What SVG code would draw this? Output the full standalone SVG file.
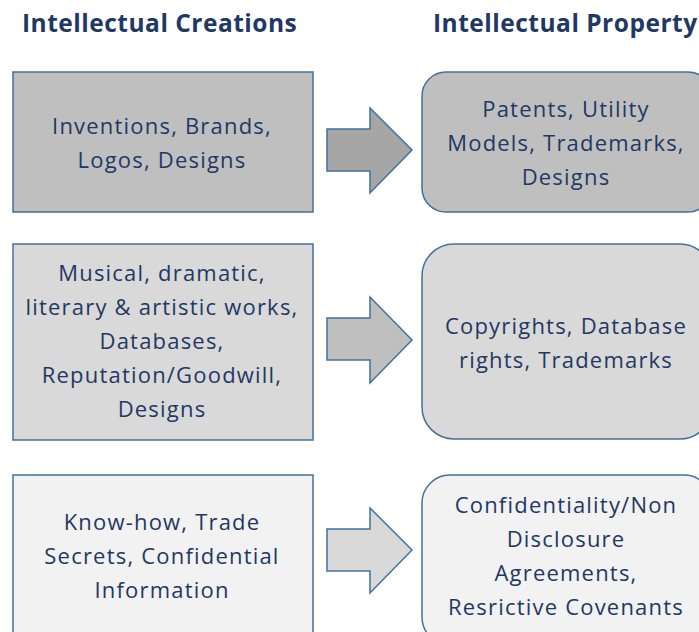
<svg xmlns="http://www.w3.org/2000/svg" width="699" height="632" viewBox="0 0 699 632">
<style>
.h{font-family:"Open Sans","Liberation Sans",sans-serif;font-weight:bold;font-size:24.5px;letter-spacing:0.5px;fill:#1f3864}
.t{font-family:"Open Sans","Liberation Sans",sans-serif;font-size:22px;letter-spacing:1.2px;fill:#1f3864;text-anchor:middle}
.b{stroke:#41719c;stroke-width:1.5}
</style>
<rect width="699" height="632" fill="#fff"/>
<text class="h" x="22" y="32">Intellectual Creations</text>
<text class="h" x="433" y="32">Intellectual Property</text>
<g id="c1"><rect class="b" x="13" y="72" width="300" height="140" fill="#bfbfbf"/>
<text class="t" x="162"><tspan x="162" y="134">Inventions, Brands,</tspan><tspan x="162" y="168">Logos, Designs</tspan></text></g>
<g id="p1"><rect class="b" x="422" y="72" width="290" height="140" rx="24" fill="#bfbfbf"/>
<text class="t"><tspan x="566" y="117">Patents, Utility</tspan><tspan x="566" y="151">Models, Trademarks,</tspan><tspan x="566" y="185">Designs</tspan></text></g>
<g id="c2"><rect class="b" x="13" y="244" width="300" height="196" fill="#d9d9d9"/>
<text class="t"><tspan x="162" y="281">Musical, dramatic,</tspan><tspan x="162" y="315">literary &amp; artistic works,</tspan><tspan x="162" y="349">Databases,</tspan><tspan x="162" y="383">Reputation/Goodwill,</tspan><tspan x="162" y="417">Designs</tspan></text></g>
<g id="p2"><rect class="b" x="422" y="244" width="290" height="195" rx="32" fill="#d9d9d9"/>
<text class="t"><tspan x="566" y="334">Copyrights, Database</tspan><tspan x="566" y="368">rights, Trademarks</tspan></text></g>
<g id="c3"><rect class="b" x="13" y="475" width="300" height="170" fill="#f2f2f2"/>
<text class="t"><tspan x="162" y="530">Know-how, Trade</tspan><tspan x="162" y="564">Secrets, Confidential</tspan><tspan x="162" y="598">Information</tspan></text></g>
<g id="p3"><rect class="b" x="422" y="475" width="290" height="170" rx="28" fill="#f2f2f2"/>
<text class="t"><tspan x="566" y="513">Confidentiality/Non</tspan><tspan x="566" y="547">Disclosure</tspan><tspan x="566" y="581">Agreements,</tspan><tspan x="566" y="615">Resrictive Covenants</tspan></text></g>
<g id="connectors">
<path class="b" fill="#a6a6a6" d="M327,129 H370 V108 L412,150 L370,193 V171 H327 Z"/>
<path class="b" fill="#bfbfbf" d="M327,318 H370 V297 L412,340 L370,383 V360 H327 Z"/>
<path class="b" fill="#d9d9d9" d="M327,529 H370 V508 L412,550 L370,593 V571 H327 Z"/>
</g>
</svg>
